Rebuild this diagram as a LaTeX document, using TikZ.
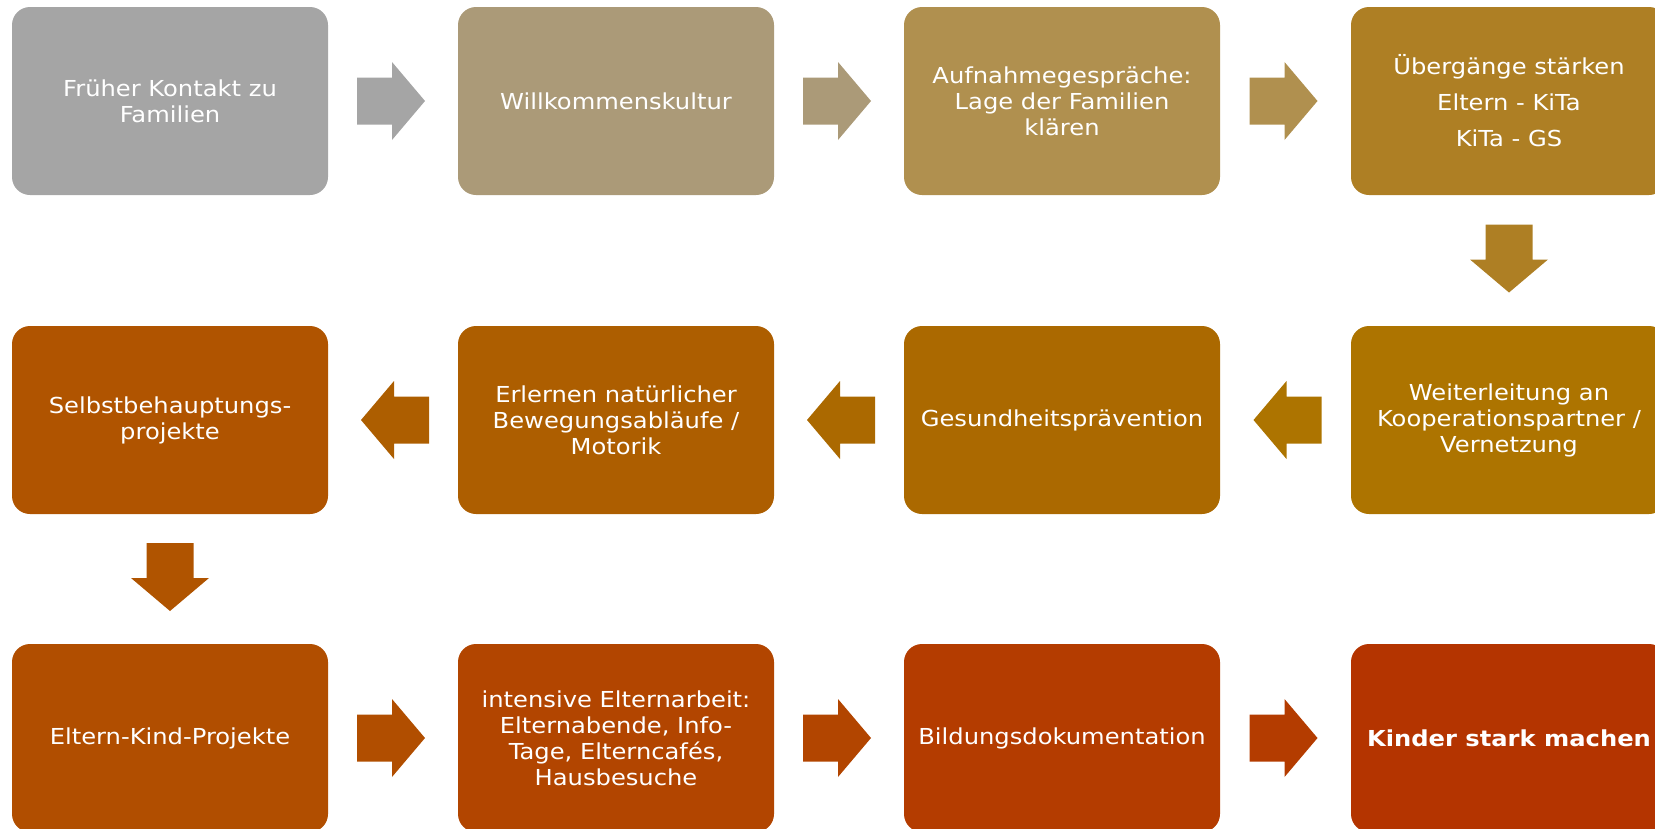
\documentclass[tikz,border=0pt]{standalone}
\usepackage{fontspec}
\setmainfont{DejaVu Sans}[FakeStretch=1.1]
\usetikzlibrary{calc}
\definecolor{c1}{HTML}{A5A5A5}
\definecolor{c2}{HTML}{AB9A78}
\definecolor{c3}{HTML}{B0904F}
\definecolor{c4}{HTML}{AE7F24}
\definecolor{c5}{HTML}{AD7400}
\definecolor{c6}{HTML}{AB6900}
\definecolor{c7}{HTML}{AD5E00}
\definecolor{c8}{HTML}{B05400}
\definecolor{c9}{HTML}{B14E00}
\definecolor{c10}{HTML}{B24500}
\definecolor{c11}{HTML}{B43C00}
\definecolor{c12}{HTML}{B43400}
\tikzset{
  x=1pt, y=1pt,
  box/.style={rectangle, rounded corners=18pt, minimum width=316pt, minimum height=188pt,
    inner sep=0pt, text=white, align=center, font=\fontsize{22}{26}\selectfont},
  pics/blockarrow/.style={code={
    \path[pic actions] (-34,-23.5) -- (1,-23.5) -- (1,-39) -- (34,0) -- (1,39) -- (1,23.5) -- (-34,23.5) -- cycle;
  }}
}
\begin{document}
\begin{tikzpicture}
\useasboundingbox (0,0) rectangle (1655,-828);
\clip (0,0) rectangle (1655,-828);
% row 1
\node[box, fill=c1] (b1) at (170,-101) {Früher Kontakt zu\\Familien};
\node[box, fill=c2] (b2) at (616,-101) {Willkommenskultur};
\node[box, fill=c3] (b3) at (1062,-101) {Aufnahmegespräche:\\Lage der Familien\\klären};
\node[box, fill=c4] (b4) at (1509,-101) {Übergänge stärken\\[10pt]Eltern - KiTa\\[10pt]KiTa - GS};
% row 2
\node[box, fill=c5] (b5) at (1509,-420) {Weiterleitung an\\Kooperationspartner /\\Vernetzung};
\node[box, fill=c6] (b6) at (1062,-420) {Gesundheitsprävention};
\node[box, fill=c7] (b7) at (616,-420) {Erlernen natürlicher\\Bewegungsabläufe /\\Motorik};
\node[box, fill=c8] (b8) at (170,-420) {Selbstbehauptungs-\\projekte};
% row 3
\node[box, fill=c9] (b9) at (170,-738) {Eltern-Kind-Projekte};
\node[box, fill=c10] (b10) at (616,-738) {intensive Elternarbeit:\\Elternabende, Info-\\Tage, Elterncafés,\\Hausbesuche};
\node[box, fill=c11] (b11) at (1062,-738) {Bildungsdokumentation};
\node[box, fill=c12] (b12) at (1509,-738) {\textbf{Kinder stark machen}};
% arrows
\pic[fill=c1] at ($(b1.east)!0.5!(b2.west)+(-2,0)$) {blockarrow};
\pic[fill=c2] at ($(b2.east)!0.5!(b3.west)+(-2,0)$) {blockarrow};
\pic[fill=c3] at ($(b3.east)!0.5!(b4.west)+(-2,0)$) {blockarrow};
\pic[fill=c4, rotate=-90] at ($(b4.south)!0.5!(b5.north)+(0,2)$) {blockarrow};
\pic[fill=c5, rotate=180] at ($(b5.west)!0.5!(b6.east)+(2,0)$) {blockarrow};
\pic[fill=c6, rotate=180] at ($(b6.west)!0.5!(b7.east)+(2,0)$) {blockarrow};
\pic[fill=c7, rotate=180] at ($(b7.west)!0.5!(b8.east)+(2,0)$) {blockarrow};
\pic[fill=c8, rotate=-90] at ($(b8.south)!0.5!(b9.north)+(0,2)$) {blockarrow};
\pic[fill=c9] at ($(b9.east)!0.5!(b10.west)+(-2,0)$) {blockarrow};
\pic[fill=c10] at ($(b10.east)!0.5!(b11.west)+(-2,0)$) {blockarrow};
\pic[fill=c11] at ($(b11.east)!0.5!(b12.west)+(-2,0)$) {blockarrow};
\end{tikzpicture}
\end{document}
